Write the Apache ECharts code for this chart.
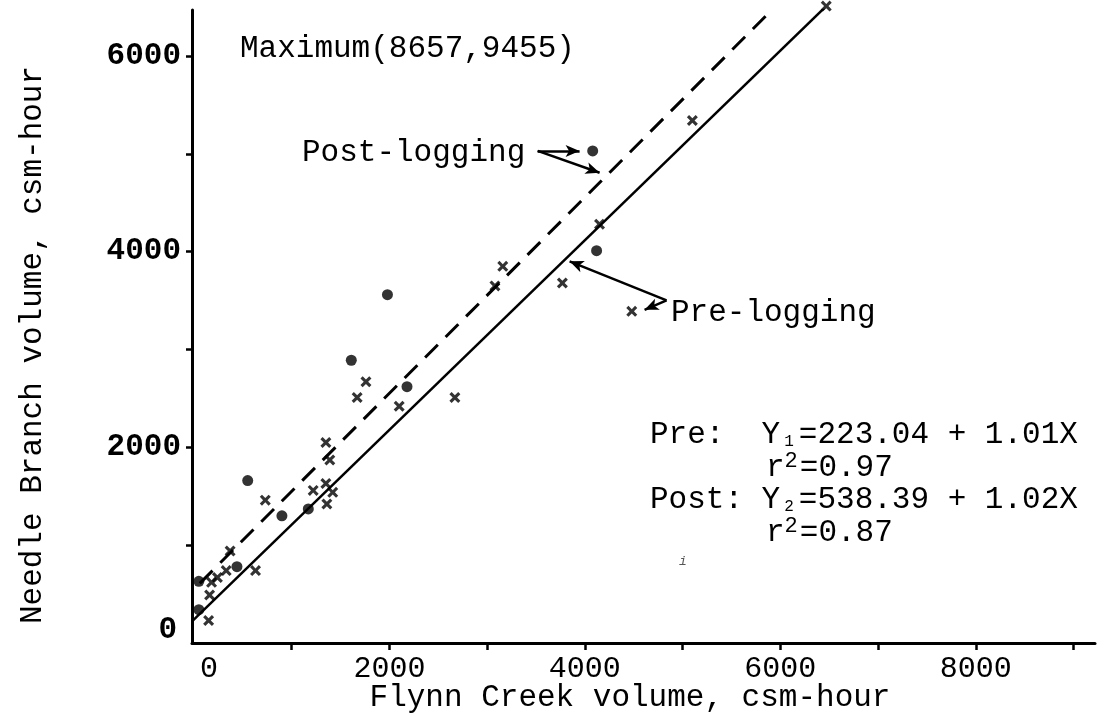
<!DOCTYPE html>
<html>
<head>
<meta charset="utf-8">
<script src="https://cdn.jsdelivr.net/npm/echarts@6/dist/echarts.min.js"></script>
<style>
html,body{margin:0;padding:0;background:#fff;}
#chart{width:1108px;height:717px;}
</style>
</head>
<body>
<div id="chart"></div>
<script>
// ---- data ----
const preLogging = [
  [6470, 6510], [5100, 5340], [4150, 4280], [3770, 3680], [4480, 3390],
  [3160, 3850], [3080, 3650], [2670, 2510], [1760, 2670], [1670, 2510],
  [2100, 2420], [1350, 2050], [1390, 1870], [1350, 1630], [1220, 1560],
  [1420, 1540], [1360, 1420], [730, 1460], [630, 740], [370, 940],
  [330, 740], [240, 670], [180, 620], [160, 490], [150, 230]
];
const postLogging = [
  [4080, 5030], [4120, 4010], [1980, 3560], [1610, 2890], [2180, 2620],
  [550, 1660], [900, 1300], [1170, 1370], [440, 780], [50, 630], [50, 340]
];
const preLine = [[-20, 220], [6470, 6510]];
const postLine = [[60, 610], [5910, 6467]];
const postArrows = [
  [[3517, 5030], [3946, 5030]],
  [[3517, 5030], [4151, 4806]]
];
const preArrows = [
  [[4836, 3502], [3844, 3901]],
  [[4836, 3502], [4611, 3405]]
];
const xTickValues = [1000, 2000, 3000, 4000, 5000, 6000, 7000, 8000, 9000];
const xLabelValues = [0, 2000, 4000, 6000, 8000];
const yTickValues = [1000, 2000, 3000, 4000, 5000, 6000];
const yLabelValues = [0, 2000, 4000, 6000];
const xTitle = 'Flynn Creek volume, csm-hour';
const yTitle = 'Needle Branch volume, csm-hour';
const maxNote = 'Maximum(8657,9455)';
const postLabel = 'Post-logging';
const preLabel = 'Pre-logging';

// ---- chart ----
const FONT = '"Liberation Mono", "DejaVu Sans Mono", monospace';
const chart = echarts.init(document.getElementById('chart'));
const crossPath = 'path://M2,0 L5,3 L8,0 L10,2 L7,5 L10,8 L8,10 L5,7 L2,10 L0,8 L3,5 L0,2 Z';

function arrowData(list) {
  return list.map(a => [{ coord: a[0], symbol: 'none' }, { coord: a[1] }]);
}

const option = {
  animation: false,
  backgroundColor: '#ffffff',
  grid: { left: 192, right: 13, top: 10, bottom: 74 },
  xAxis: {
    type: 'value', min: -20, max: 9220,
    splitLine: { show: false },
    axisLine: { show: true, onZero: false, lineStyle: { color: '#000', width: 3 } },
    axisTick: { show: true, customValues: xTickValues, length: 7, lineStyle: { color: '#000', width: 2.5 } },
    axisLabel: {
      customValues: xLabelValues, margin: 11, color: '#000',
      fontFamily: FONT, fontSize: 30,
      formatter: v => v === 0 ? '{z|0}' : String(v),
      rich: { z: { fontFamily: FONT, fontSize: 30, color: '#000', padding: [0, 0, 0, 30] } }
    }
  },
  yAxis: {
    type: 'value', min: 0, max: 6470,
    splitLine: { show: false },
    axisLine: { show: true, onZero: false, lineStyle: { color: '#000', width: 3 } },
    axisTick: { show: true, customValues: yTickValues, length: 6, lineStyle: { color: '#000', width: 2.5 } },
    axisLabel: {
      customValues: yLabelValues, margin: 11, color: '#000',
      fontFamily: FONT, fontSize: 31, fontWeight: 'bold',
      formatter: v => v === 0 ? '{z|0}' : String(v),
      rich: { z: { fontFamily: FONT, fontSize: 31, fontWeight: 'bold', color: '#000', padding: [0, 4, 26, 0] } }
    }
  },
  series: [
    {
      name: 'Pre regression', type: 'line', data: preLine, symbol: 'none',
      lineStyle: { color: '#000', width: 2.5 }, z: 2
    },
    {
      name: 'Post regression', type: 'line', data: postLine, symbol: 'none',
      lineStyle: { color: '#000', width: 3, type: [18, 11] }, z: 2
    },
    {
      name: 'Pre-logging', type: 'scatter', data: preLogging, clip: false,
      symbol: crossPath, symbolSize: 11,
      itemStyle: { color: '#000' }, z: 3,
      markLine: {
        silent: true, symbol: ['none', 'arrow'], symbolSize: [9, 14],
        label: { show: false },
        lineStyle: { color: '#000', width: 2.5, type: 'solid' },
        data: arrowData(preArrows)
      }
    },
    {
      name: 'Post-logging', type: 'scatter', data: postLogging, clip: false,
      symbol: 'circle', symbolSize: 11,
      itemStyle: { color: '#000' }, z: 3,
      markLine: {
        silent: true, symbol: ['none', 'arrow'], symbolSize: [9, 14],
        label: { show: false },
        lineStyle: { color: '#000', width: 2.5, type: 'solid' },
        data: arrowData(postArrows)
      }
    }
  ],
  graphic: [
    { type: 'text', x: 240, y: 49, style: { text: maxNote, font: '31px ' + FONT, fill: '#000', align: 'left', verticalAlign: 'middle' } },
    { type: 'text', x: 302, y: 153, style: { text: postLabel, font: '31px ' + FONT, fill: '#000', align: 'left', verticalAlign: 'middle' } },
    { type: 'text', x: 671, y: 313, style: { text: preLabel, font: '31px ' + FONT, fill: '#000', align: 'left', verticalAlign: 'middle' } },
    {
      type: 'text', x: 650, y: 435,
      style: {
        text: 'Pre:  Y{sub|1}=223.04 + 1.01X', font: '31px ' + FONT, fill: '#000', align: 'left', verticalAlign: 'middle',
        rich: { sub: { fontFamily: FONT, fontSize: 16, fill: '#000', padding: [14, 5, 0, 4] } }
      }
    },
    {
      type: 'text', x: 766, y: 468,
      style: {
        text: 'r{sup|2}=0.97', font: '31px ' + FONT, fill: '#000', align: 'left', verticalAlign: 'middle',
        rich: { sup: { fontFamily: FONT, fontSize: 22, fill: '#000', padding: [0, 2, 14, 0] } }
      }
    },
    {
      type: 'text', x: 650, y: 500,
      style: {
        text: 'Post: Y{sub|2}=538.39 + 1.02X', font: '31px ' + FONT, fill: '#000', align: 'left', verticalAlign: 'middle',
        rich: { sub: { fontFamily: FONT, fontSize: 16, fill: '#000', padding: [14, 5, 0, 4] } }
      }
    },
    {
      type: 'text', x: 766, y: 533,
      style: {
        text: 'r{sup|2}=0.87', font: '31px ' + FONT, fill: '#000', align: 'left', verticalAlign: 'middle',
        rich: { sup: { fontFamily: FONT, fontSize: 22, fill: '#000', padding: [0, 2, 14, 0] } }
      }
    },
    { type: 'text', x: 683, y: 562, style: { text: 'i', font: 'italic 13px ' + FONT, fill: '#555', align: 'center', verticalAlign: 'middle' } },
    { type: 'text', x: 630, y: 698, style: { text: xTitle, font: '31px ' + FONT, fill: '#000', align: 'center', verticalAlign: 'middle' } },
    { type: 'text', x: 33, y: 345, rotation: Math.PI / 2, style: { text: yTitle, font: '31px ' + FONT, fill: '#000', align: 'center', verticalAlign: 'middle' } }
  ]
};
chart.setOption(option);
</script>
</body>
</html>
